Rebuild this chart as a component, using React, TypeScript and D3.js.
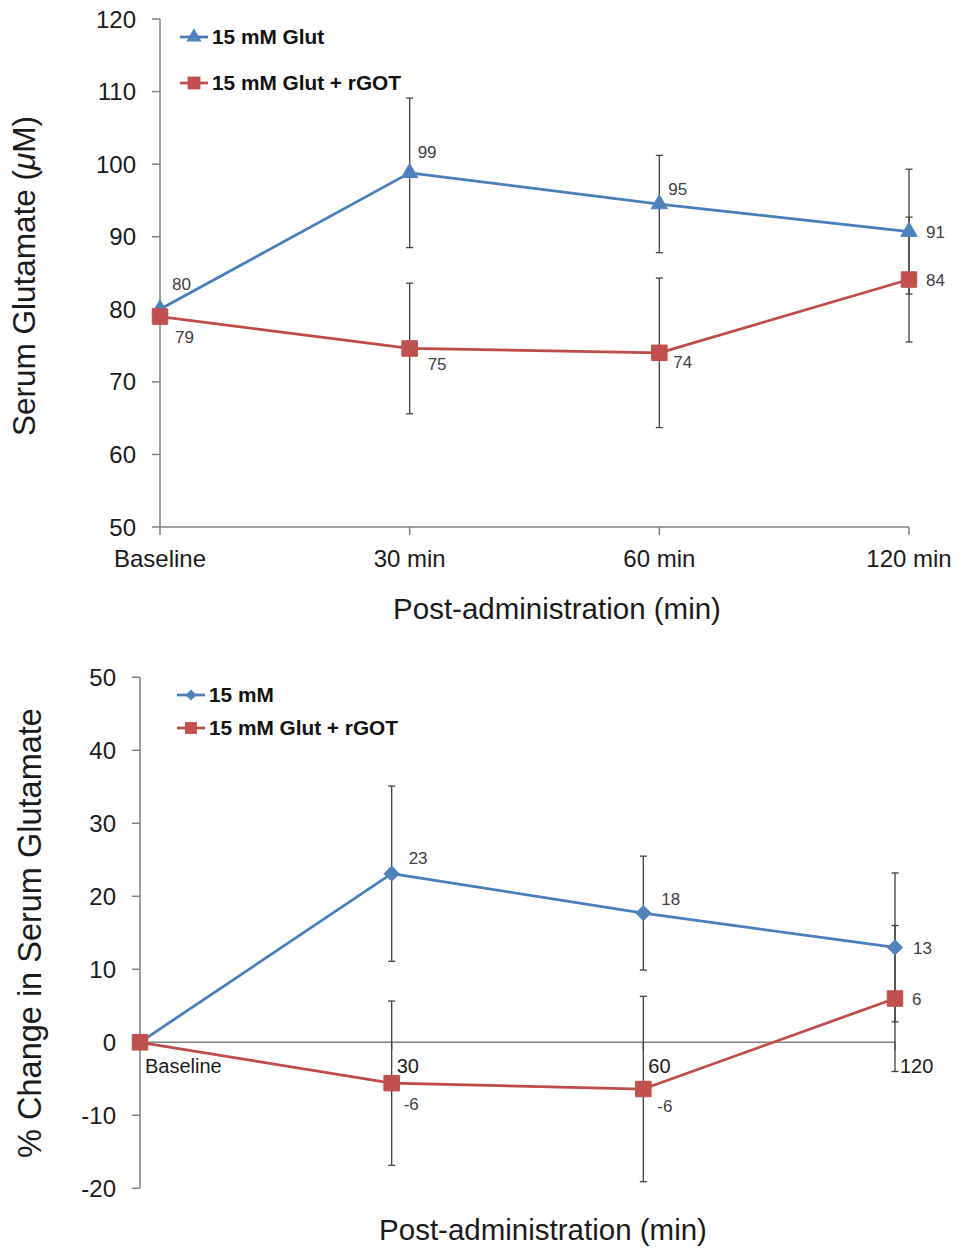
import React from "react";
import * as d3 from "d3";

// ---------- data ----------
const categoriesTop = ["Baseline", "30 min", "60 min", "120 min"];
const glutTop = [80.0, 98.8, 94.5, 90.7];
const glutTopErr = [0, 10.3, 6.7, 8.6];
const rgotTop = [79.0, 74.6, 74.0, 84.1];
const rgotTopErr = [0, 9.0, 10.3, 8.6];
const yTicksTop = [50, 60, 70, 80, 90, 100, 110, 120];

const categoriesBottom = ["Baseline", "30", "60", "120"];
const glutBottom = [0, 23.1, 17.7, 13.0];
const glutBottomErr = [0, 12.0, 7.8, 10.2];
const rgotBottom = [0, -5.6, -6.4, 6.0];
const rgotBottomErr = [0, 11.25, 12.7, 10.0];
const yTicksBottom = [-20, -10, 0, 10, 20, 30, 40, 50];

// label placement (style only: pixel offsets from the point)
const glutTopLabelOff: ([number, number] | null)[] = [[12, -25], [8, -21], [9, -15], [17, 0]];
const rgotTopLabelOff: ([number, number] | null)[] = [[15, 20], [18, 15], [14, 9], [17, 0]];
const glutBottomLabelOff: ([number, number] | null)[] = [null, [17, -16], [18, -14], [18, 0]];
const rgotBottomLabelOff: ([number, number] | null)[] = [null, [12, 21], [14, 17], [17, 0]];

const FONT = "'Liberation Sans', Arial, Helvetica, sans-serif";
const BLUE_LINE = "#4a7ebb";
const BLUE_FILL = "#4f81bd";
const RED_LINE = "#be4b48";
const RED_FILL = "#c0504d";
const AXIS = "#808080";
const ERR = "#404040";
const LABEL = "#404040";

type Series = {
  values: number[];
  err: number[];
  line: string;
  fill: string;
  symbol: d3.SymbolType;
  size: number;
  rotate: number;
  labelOff: ([number, number] | null)[];
};

function Panel(props: {
  cats: string[];
  series: Series[];
  yTicks: number[];
  x0: number;
  x1: number;
  yTop: number;
  yBot: number;
  axisAtZero: boolean;
  tickFont: number;
  catFont: number;
  catStyle: "below" | "inline";
}) {
  const { cats, series, yTicks, x0, x1, yTop, yBot, axisAtZero } = props;
  const x = d3.scalePoint<string>().domain(cats).range([x0, x1]).padding(0);
  const y = d3
    .scaleLinear()
    .domain([d3.min(yTicks)!, d3.max(yTicks)!])
    .range([yBot, yTop]);
  const xAxisY = axisAtZero ? y(0) : yBot;
  const lineGen = d3
    .line<number>()
    .x((_, i) => x(cats[i])!)
    .y((d) => y(d));
  const capW = 3.5;

  return (
    <g>
      {/* y axis */}
      <line x1={x0} x2={x0} y1={yTop} y2={yBot} stroke={AXIS} strokeWidth={1.5} />
      {yTicks.map((t) => (
        <g key={t}>
          <line x1={x0 - 8} x2={x0} y1={y(t)} y2={y(t)} stroke={AXIS} strokeWidth={1.5} />
          <text
            x={x0 - 24}
            y={y(t)}
            dy="0.36em"
            textAnchor="end"
            fontSize={props.tickFont}
            fontFamily={FONT}
            fill="#1a1a1a"
          >
            {t}
          </text>
        </g>
      ))}
      {/* x axis */}
      <line x1={x0} x2={x1} y1={xAxisY} y2={xAxisY} stroke={AXIS} strokeWidth={1.5} />
      {cats.map((c) => (
        <g key={c}>
          <line x1={x(c)} x2={x(c)} y1={xAxisY} y2={xAxisY + 8} stroke={AXIS} strokeWidth={1.5} />
          {props.catStyle === "below" ? (
            <text
              x={x(c)}
              y={xAxisY + 40}
              textAnchor="middle"
              fontSize={props.catFont}
              fontFamily={FONT}
              fill="#1a1a1a"
            >
              {c}
            </text>
          ) : (
            <text
              x={x(c)! + 5}
              y={xAxisY + 31}
              textAnchor="start"
              fontSize={props.catFont}
              fontFamily={FONT}
              fill="#1a1a1a"
            >
              {c}
            </text>
          )}
        </g>
      ))}
      {/* error bars */}
      {series.map((s, si) =>
        s.values.map((v, i) =>
          s.err[i] > 0 ? (
            <g key={`e${si}-${i}`} stroke={ERR} strokeWidth={1.3}>
              <line x1={x(cats[i])} x2={x(cats[i])} y1={y(v - s.err[i])} y2={y(v + s.err[i])} />
              <line
                x1={x(cats[i])! - capW}
                x2={x(cats[i])! + capW}
                y1={y(v + s.err[i])}
                y2={y(v + s.err[i])}
              />
              <line
                x1={x(cats[i])! - capW}
                x2={x(cats[i])! + capW}
                y1={y(v - s.err[i])}
                y2={y(v - s.err[i])}
              />
            </g>
          ) : null
        )
      )}
      {/* lines + markers */}
      {series.map((s, si) => (
        <g key={`s${si}`}>
          <path d={lineGen(s.values)!} fill="none" stroke={s.line} strokeWidth={2.75} strokeLinejoin="round" />
          {s.values.map((v, i) => (
            <path
              key={i}
              d={d3.symbol().type(s.symbol).size(s.size)()!}
              transform={`translate(${x(cats[i])},${y(v)}) rotate(${s.rotate})`}
              fill={s.fill}
              stroke={s.fill}
              strokeWidth={1}
            />
          ))}
        </g>
      ))}
      {/* data labels */}
      {series.map((s, si) =>
        s.values.map((v, i) => {
          const off = s.labelOff[i];
          if (!off) return null;
          const [dx, dy] = off;
          return (
            <text
              key={`l${si}-${i}`}
              x={x(cats[i])! + dx}
              y={y(v) + dy}
              dy="0.36em"
              fontSize={17}
              fontFamily={FONT}
              fill={LABEL}
            >
              {Math.round(v)}
            </text>
          );
        })
      )}
    </g>
  );
}

function Legend(props: {
  x: number;
  items: { y: number; label: string; line: string; fill: string; symbol: d3.SymbolType; size: number; rotate: number }[];
}) {
  return (
    <g>
      {props.items.map((it, i) => (
        <g key={i}>
          <line x1={props.x} x2={props.x + 28} y1={it.y} y2={it.y} stroke={it.line} strokeWidth={2.75} />
          <path
            d={d3.symbol().type(it.symbol).size(it.size)()!}
            transform={`translate(${props.x + 14},${it.y}) rotate(${it.rotate})`}
            fill={it.fill}
          />
          <text
            x={props.x + 32}
            y={it.y}
            dy="0.36em"
            fontSize={20.8}
            fontWeight="bold"
            fontFamily={FONT}
            fill="#111"
          >
            {it.label}
          </text>
        </g>
      ))}
    </g>
  );
}

export default function App() {
  const topSeries: Series[] = [
    { values: glutTop, err: glutTopErr, line: BLUE_LINE, fill: BLUE_FILL, symbol: d3.symbolTriangle, size: 115, rotate: 0, labelOff: glutTopLabelOff },
    { values: rgotTop, err: rgotTopErr, line: RED_LINE, fill: RED_FILL, symbol: d3.symbolSquare, size: 240, rotate: 0, labelOff: rgotTopLabelOff },
  ];
  const bottomSeries: Series[] = [
    { values: glutBottom, err: glutBottomErr, line: BLUE_LINE, fill: BLUE_FILL, symbol: d3.symbolSquare, size: 110, rotate: 45, labelOff: glutBottomLabelOff },
    { values: rgotBottom, err: rgotBottomErr, line: RED_LINE, fill: RED_FILL, symbol: d3.symbolSquare, size: 240, rotate: 0, labelOff: rgotBottomLabelOff },
  ];

  return (
    <svg
      width={961}
      height={1249}
      style={{ position: "absolute", left: 0, top: 0, background: "#fff" }}
    >
      <rect width={961} height={1249} fill="#fff" />
      {/* top chart */}
      <Panel
        cats={categoriesTop}
        series={topSeries}
        yTicks={yTicksTop}
        x0={160}
        x1={909}
        yTop={19}
        yBot={527}
        axisAtZero={false}
        tickFont={24}
        catFont={24}
        catStyle="below"
      />
      <Legend
        x={180}
        items={[
          { y: 37, label: "15 mM Glut", line: BLUE_LINE, fill: BLUE_FILL, symbol: d3.symbolTriangle, size: 100, rotate: 0 },
          { y: 83, label: "15 mM Glut + rGOT", line: RED_LINE, fill: RED_FILL, symbol: d3.symbolSquare, size: 165, rotate: 0 },
        ]}
      />
      <text
        transform="translate(35,276) rotate(-90)"
        textAnchor="middle"
        fontSize={31.5}
        fontFamily={FONT}
        fill="#1a1a1a"
      >
        Serum Glutamate (<tspan fontStyle="italic">μ</tspan>M)
      </text>
      <text x={557} y={619} textAnchor="middle" fontSize={29.5} fontFamily={FONT} fill="#1a1a1a">
        Post-administration (min)
      </text>

      {/* bottom chart */}
      <Panel
        cats={categoriesBottom}
        series={bottomSeries}
        yTicks={yTicksBottom}
        x0={140}
        x1={895}
        yTop={677.3}
        yBot={1188.3}
        axisAtZero={true}
        tickFont={24}
        catFont={20}
        catStyle="inline"
      />
      <Legend
        x={177}
        items={[
          { y: 695, label: "15 mM", line: BLUE_LINE, fill: BLUE_FILL, symbol: d3.symbolSquare, size: 60, rotate: 45 },
          { y: 728, label: "15 mM Glut + rGOT", line: RED_LINE, fill: RED_FILL, symbol: d3.symbolSquare, size: 140, rotate: 0 },
        ]}
      />
      <text
        transform="translate(41,933) rotate(-90)"
        textAnchor="middle"
        fontSize={32.5}
        fontFamily={FONT}
        fill="#1a1a1a"
      >
        % Change in Serum Glutamate
      </text>
      <text x={543} y={1240} textAnchor="middle" fontSize={29.5} fontFamily={FONT} fill="#1a1a1a">
        Post-administration (min)
      </text>
    </svg>
  );
}
